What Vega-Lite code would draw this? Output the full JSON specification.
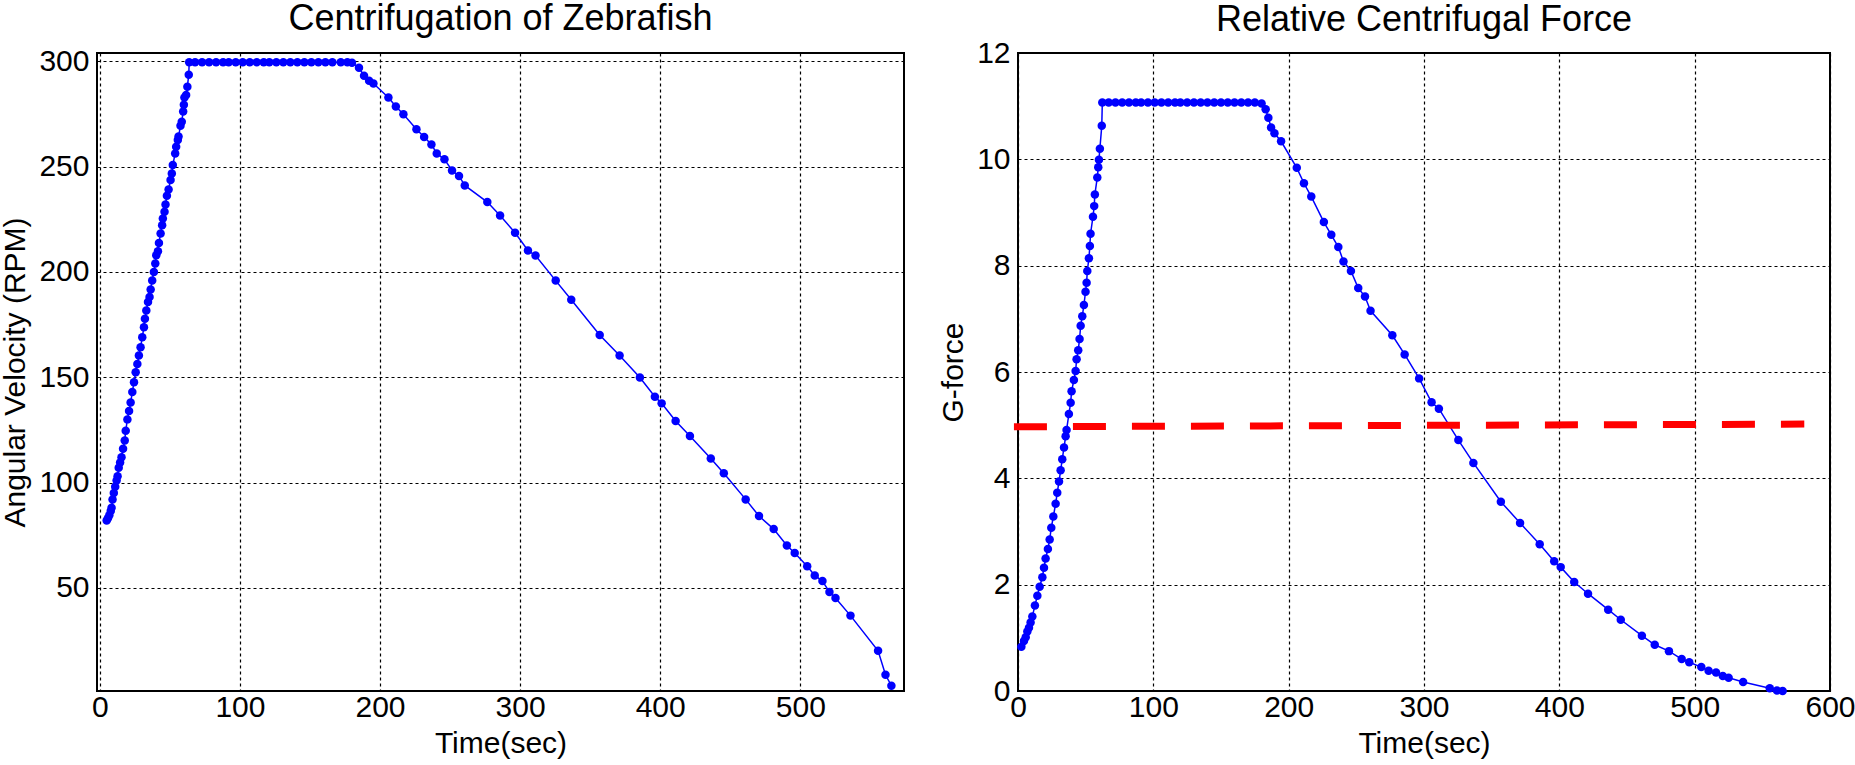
{
  "$schema": "https://vega.github.io/schema/vega-lite/v6.json",
  "background": "white",
  "padding": {"left": -1, "top": 0, "right": 0, "bottom": 0},
  "spacing": 32,
  "datasets": {
    "rpm": [
      {"t": 4.9, "v": 82}, {"t": 5.8, "v": 83}, {"t": 6.8, "v": 84.5}, {"t": 7.8, "v": 86.5}, {"t": 8.4, "v": 88},
      {"t": 9.1, "v": 92}, {"t": 10, "v": 95}, {"t": 11, "v": 98}, {"t": 12, "v": 101}, {"t": 12.7, "v": 103},
      {"t": 13.5, "v": 107}, {"t": 14.5, "v": 109.5}, {"t": 15.5, "v": 112}, {"t": 16.6, "v": 116}, {"t": 17.8, "v": 120},
      {"t": 18.5, "v": 124.6}, {"t": 19.7, "v": 130}, {"t": 20.9, "v": 134}, {"t": 22, "v": 138}, {"t": 23.2, "v": 143},
      {"t": 24.4, "v": 147.6}, {"t": 25.6, "v": 152.4}, {"t": 26.8, "v": 156.3}, {"t": 27.9, "v": 160.3}, {"t": 29.1, "v": 164.3},
      {"t": 30.3, "v": 169}, {"t": 31.5, "v": 173.8}, {"t": 32.2, "v": 177.8}, {"t": 33.2, "v": 181.7}, {"t": 34.4, "v": 185.7},
      {"t": 35.5, "v": 188.1}, {"t": 36.3, "v": 191.7}, {"t": 37.4, "v": 196}, {"t": 38.6, "v": 200}, {"t": 39.6, "v": 204},
      {"t": 40.3, "v": 207.9}, {"t": 41.5, "v": 209.8}, {"t": 42.2, "v": 213.8}, {"t": 43.4, "v": 218.3}, {"t": 44.5, "v": 222.2},
      {"t": 45, "v": 225.4}, {"t": 46.2, "v": 228.6}, {"t": 46.9, "v": 232.1}, {"t": 47.9, "v": 236.2}, {"t": 49.1, "v": 239.2},
      {"t": 50.5, "v": 243.7}, {"t": 51.4, "v": 246.8}, {"t": 52.1, "v": 250.8}, {"t": 53.8, "v": 256.3}, {"t": 54.5, "v": 259.5},
      {"t": 55.7, "v": 262.7}, {"t": 56.2, "v": 264.3}, {"t": 57.6, "v": 269.5}, {"t": 58.5, "v": 271.4}, {"t": 59.5, "v": 276.2},
      {"t": 60, "v": 279.4}, {"t": 60.4, "v": 282.9}, {"t": 61.6, "v": 284.1}, {"t": 62.5, "v": 288}, {"t": 63.5, "v": 293.7},
      {"t": 63.8, "v": 299.6}, {"t": 68, "v": 299.6}, {"t": 73, "v": 299.6}, {"t": 78, "v": 299.6}, {"t": 83, "v": 299.6},
      {"t": 88, "v": 299.6}, {"t": 92, "v": 299.6}, {"t": 97, "v": 299.6}, {"t": 102, "v": 299.6}, {"t": 107, "v": 299.6},
      {"t": 112, "v": 299.6}, {"t": 117, "v": 299.6}, {"t": 121, "v": 299.6}, {"t": 126, "v": 299.6}, {"t": 131, "v": 299.6},
      {"t": 136, "v": 299.6}, {"t": 141, "v": 299.6}, {"t": 146, "v": 299.6}, {"t": 151, "v": 299.6}, {"t": 156, "v": 299.6},
      {"t": 161, "v": 299.6}, {"t": 166, "v": 299.6}, {"t": 172, "v": 299.6}, {"t": 176.7, "v": 299.6}, {"t": 180, "v": 299.4},
      {"t": 185, "v": 297}, {"t": 188.6, "v": 293.2}, {"t": 192.2, "v": 290.8}, {"t": 195.3, "v": 289.5}, {"t": 206, "v": 282.9},
      {"t": 211.3, "v": 278.6}, {"t": 216.7, "v": 274.9}, {"t": 226, "v": 267.8}, {"t": 231.5, "v": 264.1}, {"t": 236.7, "v": 260.6},
      {"t": 240.5, "v": 256.3}, {"t": 246, "v": 253.5}, {"t": 251.4, "v": 248.2}, {"t": 256.4, "v": 245.6}, {"t": 260.5, "v": 241.1},
      {"t": 276.6, "v": 233.2}, {"t": 285.7, "v": 226.8}, {"t": 296.4, "v": 218.6}, {"t": 305.6, "v": 210.2}, {"t": 311, "v": 207.8},
      {"t": 325.4, "v": 195.9}, {"t": 336.5, "v": 186.8}, {"t": 356.8, "v": 170.1}, {"t": 371, "v": 160.3}, {"t": 385.5, "v": 149.9},
      {"t": 396.2, "v": 140.8}, {"t": 401, "v": 137.6}, {"t": 411, "v": 129.2}, {"t": 421.2, "v": 122.1}, {"t": 436.1, "v": 111.4},
      {"t": 445.4, "v": 104.4}, {"t": 461, "v": 92}, {"t": 470.5, "v": 84.1}, {"t": 481, "v": 77.9}, {"t": 490.4, "v": 70.1},
      {"t": 496, "v": 66.5}, {"t": 504.9, "v": 60.2}, {"t": 510.3, "v": 55.9}, {"t": 515.8, "v": 53.2}, {"t": 520.8, "v": 48},
      {"t": 525.1, "v": 45.2}, {"t": 535.8, "v": 36.8}, {"t": 555.5, "v": 20.1}, {"t": 560.8, "v": 8.7}, {"t": 565, "v": 3.5}
    ],
    "gforce": [
      {"t": 2.5, "g": 0.83}, {"t": 4.4, "g": 0.94}, {"t": 5.7, "g": 1.01}, {"t": 6.9, "g": 1.12}, {"t": 8.1, "g": 1.19},
      {"t": 9.3, "g": 1.29}, {"t": 10.6, "g": 1.4}, {"t": 12.5, "g": 1.61}, {"t": 14.3, "g": 1.79}, {"t": 16, "g": 1.96},
      {"t": 18, "g": 2.14}, {"t": 19.2, "g": 2.32}, {"t": 20.4, "g": 2.49}, {"t": 22.1, "g": 2.67}, {"t": 23.4, "g": 2.85},
      {"t": 24.6, "g": 3.07}, {"t": 26.1, "g": 3.28}, {"t": 27.8, "g": 3.52}, {"t": 29, "g": 3.73}, {"t": 30.3, "g": 3.94},
      {"t": 31.5, "g": 4.15}, {"t": 32.7, "g": 4.36}, {"t": 34, "g": 4.58}, {"t": 35.2, "g": 4.79}, {"t": 35.9, "g": 4.91},
      {"t": 37.6, "g": 5.21}, {"t": 38.9, "g": 5.42}, {"t": 39.6, "g": 5.64}, {"t": 41.3, "g": 5.85}, {"t": 42.6, "g": 6.02},
      {"t": 43.3, "g": 6.24}, {"t": 44.5, "g": 6.41}, {"t": 45.5, "g": 6.62}, {"t": 46.3, "g": 6.87}, {"t": 47.5, "g": 7.05},
      {"t": 48.7, "g": 7.26}, {"t": 49.9, "g": 7.51}, {"t": 50.7, "g": 7.68}, {"t": 51.2, "g": 7.9}, {"t": 52.4, "g": 8.14},
      {"t": 53.1, "g": 8.37}, {"t": 53.6, "g": 8.6}, {"t": 55.4, "g": 8.92}, {"t": 56.3, "g": 9.12}, {"t": 56.8, "g": 9.34},
      {"t": 58.6, "g": 9.66}, {"t": 59.3, "g": 9.85}, {"t": 59.8, "g": 9.99}, {"t": 60.5, "g": 10.2}, {"t": 61.9, "g": 10.63},
      {"t": 62.3, "g": 11.07}, {"t": 67, "g": 11.07}, {"t": 72, "g": 11.07}, {"t": 77, "g": 11.07}, {"t": 82, "g": 11.07},
      {"t": 87, "g": 11.07}, {"t": 91, "g": 11.07}, {"t": 96, "g": 11.07}, {"t": 101, "g": 11.07}, {"t": 106, "g": 11.07},
      {"t": 111, "g": 11.07}, {"t": 116, "g": 11.07}, {"t": 120, "g": 11.07}, {"t": 125, "g": 11.07}, {"t": 130, "g": 11.07},
      {"t": 135, "g": 11.07}, {"t": 140, "g": 11.07}, {"t": 145, "g": 11.07}, {"t": 150, "g": 11.07}, {"t": 155, "g": 11.07},
      {"t": 160, "g": 11.07}, {"t": 165, "g": 11.07}, {"t": 170, "g": 11.07}, {"t": 175, "g": 11.07}, {"t": 180, "g": 11.05},
      {"t": 183, "g": 10.94}, {"t": 185, "g": 10.78}, {"t": 187, "g": 10.6}, {"t": 189.5, "g": 10.49}, {"t": 194.4, "g": 10.34},
      {"t": 206, "g": 9.84}, {"t": 211.3, "g": 9.55}, {"t": 216.7, "g": 9.3}, {"t": 226, "g": 8.82}, {"t": 231.5, "g": 8.58},
      {"t": 236.7, "g": 8.35}, {"t": 240.5, "g": 8.08}, {"t": 246, "g": 7.9}, {"t": 251.4, "g": 7.58}, {"t": 256.4, "g": 7.42},
      {"t": 260.5, "g": 7.15}, {"t": 276.6, "g": 6.69}, {"t": 285.7, "g": 6.33}, {"t": 296.4, "g": 5.88}, {"t": 305.6, "g": 5.43},
      {"t": 311, "g": 5.31}, {"t": 325.4, "g": 4.72}, {"t": 336.5, "g": 4.29}, {"t": 356.8, "g": 3.56}, {"t": 371, "g": 3.16},
      {"t": 385.5, "g": 2.76}, {"t": 396.2, "g": 2.44}, {"t": 401, "g": 2.33}, {"t": 411, "g": 2.05}, {"t": 421.2, "g": 1.83},
      {"t": 436.1, "g": 1.53}, {"t": 445.4, "g": 1.34}, {"t": 461, "g": 1.04}, {"t": 470.5, "g": 0.87}, {"t": 481, "g": 0.75},
      {"t": 490.4, "g": 0.6}, {"t": 496, "g": 0.54}, {"t": 504.9, "g": 0.45}, {"t": 510.3, "g": 0.38}, {"t": 515.8, "g": 0.35},
      {"t": 520.8, "g": 0.28}, {"t": 525.1, "g": 0.25}, {"t": 535.8, "g": 0.17}, {"t": 555.5, "g": 0.05}, {"t": 560.8, "g": 0.01},
      {"t": 565, "g": 0.0}
    ],
    "threshold": [
      {"t0": -3, "g0": 4.97, "t1": 581, "g1": 5.02}
    ]
  },
  "hconcat": [
    {
      "width": 807,
      "height": 638,
      "title": {"text": "Centrifugation of Zebrafish", "offset": 8},
      "data": {"name": "rpm"},
      "mark": {
        "type": "line",
        "color": "#0000ff",
        "strokeWidth": 1.5,
        "point": {"filled": true, "size": 72, "color": "#0000ff", "opacity": 1}
      },
      "encoding": {
        "x": {
          "field": "t",
          "type": "quantitative",
          "title": "Time(sec)",
          "scale": {"domain": [-2, 574], "nice": false, "zero": false},
          "axis": {"values": [0, 100, 200, 300, 400, 500]}
        },
        "y": {
          "field": "v",
          "type": "quantitative",
          "title": "Angular Velocity (RPM)",
          "scale": {"domain": [1, 304], "nice": false, "zero": false},
          "axis": {"values": [50, 100, 150, 200, 250, 300]}
        }
      }
    },
    {
      "width": 812,
      "height": 638,
      "title": {"text": "Relative Centrifugal Force", "offset": -1},
      "layer": [
        {
          "data": {"name": "gforce"},
          "mark": {
            "type": "line",
            "color": "#0000ff",
            "strokeWidth": 1.5,
            "point": {"filled": true, "size": 72, "color": "#0000ff", "opacity": 1}
          },
          "encoding": {
            "x": {
              "field": "t",
              "type": "quantitative",
              "title": "Time(sec)",
              "scale": {"domain": [0, 600], "nice": false},
              "axis": {"values": [0, 100, 200, 300, 400, 500, 600]}
            },
            "y": {
              "field": "g",
              "type": "quantitative",
              "title": "G-force",
              "scale": {"domain": [0, 12], "nice": false},
              "axis": {"values": [0, 2, 4, 6, 8, 10, 12]}
            }
          }
        },
        {
          "data": {"name": "threshold"},
          "mark": {"type": "rule", "color": "#ff0000", "strokeWidth": 7, "strokeDash": [33, 26], "strokeCap": "butt"},
          "encoding": {
            "x": {"field": "t0", "type": "quantitative"},
            "y": {"field": "g0", "type": "quantitative"},
            "x2": {"field": "t1"},
            "y2": {"field": "g1"}
          }
        }
      ]
    }
  ],
  "config": {
    "font": "Liberation Sans",
    "view": {"stroke": "black", "strokeWidth": 2},
    "title": {"fontSize": 36, "fontWeight": "normal", "color": "black", "font": "Liberation Sans"},
    "axis": {
      "grid": true,
      "gridColor": "black",
      "gridDash": [3, 3],
      "gridWidth": 1.2,
      "gridOpacity": 1,
      "domain": false,
      "ticks": false,
      "labelFont": "Liberation Sans",
      "titleFont": "Liberation Sans",
      "labelFontSize": 30,
      "titleFontSize": 30,
      "titleFontWeight": "normal",
      "labelColor": "black",
      "titleColor": "black",
      "labelFlush": false,
      "labelOverlap": false
    },
    "axisX": {"labelPadding": 1, "titlePadding": 6},
    "axisY": {"labelPadding": 8, "titlePadding": 8}
  }
}
